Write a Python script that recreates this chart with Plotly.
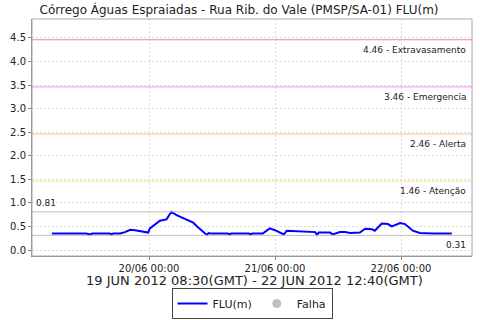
import plotly.graph_objects as go

# Series FLU(m) (local time, GMT-3)
times = [
    "2012-06-19 05:30", "2012-06-19 09:00", "2012-06-19 12:00", "2012-06-19 12:50", "2012-06-19 13:10",
    "2012-06-19 16:30", "2012-06-19 16:50", "2012-06-19 17:10", "2012-06-19 18:30", "2012-06-19 19:25",
    "2012-06-19 20:25", "2012-06-19 21:20", "2012-06-19 22:15", "2012-06-19 23:50", "2012-06-20 00:10",
    "2012-06-20 01:10", "2012-06-20 02:05", "2012-06-20 03:20", "2012-06-20 03:50", "2012-06-20 04:15",
    "2012-06-20 05:15", "2012-06-20 06:50", "2012-06-20 08:25", "2012-06-20 09:10", "2012-06-20 10:00",
    "2012-06-20 10:40", "2012-06-20 11:00", "2012-06-20 11:20", "2012-06-20 11:40", "2012-06-20 15:00",
    "2012-06-20 15:20", "2012-06-20 15:40", "2012-06-20 19:00", "2012-06-20 19:20", "2012-06-20 19:40",
    "2012-06-20 21:40", "2012-06-20 23:00", "2012-06-21 00:00", "2012-06-21 01:15", "2012-06-21 01:40",
    "2012-06-21 02:15", "2012-06-21 04:45", "2012-06-21 06:40", "2012-06-21 07:40", "2012-06-21 08:00",
    "2012-06-21 08:20", "2012-06-21 10:30", "2012-06-21 11:00", "2012-06-21 12:20", "2012-06-21 13:20",
    "2012-06-21 14:20", "2012-06-21 16:10", "2012-06-21 17:10", "2012-06-21 18:30", "2012-06-21 19:00",
    "2012-06-21 20:20", "2012-06-21 21:30", "2012-06-21 22:15", "2012-06-21 23:50", "2012-06-22 00:45",
    "2012-06-22 02:15", "2012-06-22 03:35", "2012-06-22 06:00", "2012-06-22 09:40",
]
flu = [
    0.35, 0.35, 0.35, 0.33, 0.35,
    0.35, 0.33, 0.35, 0.35, 0.38,
    0.43, 0.42, 0.40, 0.37, 0.46,
    0.55, 0.62, 0.65, 0.75, 0.81,
    0.74, 0.66, 0.58, 0.50, 0.41,
    0.36, 0.32, 0.36, 0.35, 0.35,
    0.33, 0.35, 0.35, 0.33, 0.35,
    0.35, 0.46, 0.42, 0.36, 0.33,
    0.41, 0.40, 0.39, 0.38, 0.32,
    0.37, 0.37, 0.33, 0.38, 0.38,
    0.36, 0.37, 0.45, 0.44, 0.41,
    0.56, 0.55, 0.50, 0.57, 0.55,
    0.41, 0.36, 0.35, 0.35,
]

# Threshold lines
limit_values = [4.46, 3.46, 2.46, 1.46]
limit_names = ["Extravasamento", "Emergencia", "Alerta", "Atenção"]
limit_colors = ["#f08a8a", "#ff88ff", "#ffc080", "#f5e68c"]
max_value = 0.81
min_value = 0.31

y_ticks = [0.0, 0.5, 1.0, 1.5, 2.0, 2.5, 3.0, 3.5, 4.0, 4.5]
x_ticks = ["2012-06-20 00:00", "2012-06-21 00:00", "2012-06-22 00:00"]
x_ticklabels = ["20/06 00:00", "21/06 00:00", "22/06 00:00"]

title = "Córrego Águas Espraiadas - Rua Rib. do Vale (PMSP/SA-01) FLU(m)"
period = "19 JUN 2012 08:30(GMT) - 22 JUN 2012 12:40(GMT)"

font = "DejaVu Sans"

fig = go.Figure()
fig.add_trace(go.Scatter(x=times, y=flu, mode="lines", name="FLU(m)",
                         line=dict(color="#0000ff", width=2)))
fig.add_trace(go.Scatter(x=[None], y=[None], mode="markers", name="Falha",
                         marker=dict(color="#c0c0c0", size=9)))

shapes = []
annotations = []
for v, n, c in zip(limit_values, limit_names, limit_colors):
    shapes.append(dict(type="line", xref="paper", x0=0, x1=1, yref="y", y0=v, y1=v,
                       line=dict(color=c, width=1)))
    annotations.append(dict(xref="paper", x=0.99, yref="y", y=v, yshift=-3,
                            text=f"{v:.2f} - {n}", showarrow=False,
                            xanchor="right", yanchor="top",
                            font=dict(family=font, size=9, color="#222")))
for v in (max_value, min_value):
    shapes.append(dict(type="line", xref="paper", x0=0, x1=1, yref="y", y0=v, y1=v,
                       line=dict(color="#c0c0c0", width=1)))
annotations.append(dict(xref="paper", x=0.005, yref="y", y=max_value, yshift=2,
                        text=f"{max_value:.2f}", showarrow=False,
                        xanchor="left", yanchor="bottom",
                        font=dict(family=font, size=9, color="#222")))
annotations.append(dict(xref="paper", x=0.99, yref="y", y=min_value, yshift=-3,
                        text=f"{min_value:.2f}", showarrow=False,
                        xanchor="right", yanchor="top",
                        font=dict(family=font, size=9, color="#222")))
annotations.append(dict(xref="paper", x=0.505, yref="paper", y=-0.105,
                        text=period, showarrow=False, xanchor="center", yanchor="middle",
                        font=dict(family=font, size=13, color="#222")))

grid = dict(showgrid=True, gridcolor="#dcdcdc", griddash="2px,2px", gridwidth=1)

fig.update_layout(
    width=480, height=320,
    margin=dict(l=32, r=8, t=19, b=64, autoexpand=False),
    paper_bgcolor="white", plot_bgcolor="white",
    title=dict(text=title, x=0.498, xanchor="center", y=0.97, yanchor="middle",
               font=dict(family=font, size=12, color="#222")),
    font=dict(family=font, size=10, color="#222"),
    shapes=shapes, annotations=annotations,
    showlegend=True,
    legend=dict(orientation="h", x=0.5, xanchor="center", y=-0.135, yanchor="top",
                bordercolor="#444", borderwidth=1, bgcolor="white",
                font=dict(family=font, size=11, color="#222"),
                itemwidth=30, tracegroupgap=0),
    xaxis=dict(range=["2012-06-19 01:43", "2012-06-22 13:31"],
               tickvals=x_ticks, ticktext=x_ticklabels, **grid,
               showline=True, linecolor="#888", mirror=False,
               ticks="outside", ticklen=3, tickcolor="#888",
               tickfont=dict(family=font, size=10), zeroline=False),
    yaxis=dict(range=[-0.127, 4.9], tickvals=y_ticks,
               ticktext=[f"{t:.1f}" for t in y_ticks], **grid,
               showline=True, linecolor="#888",
               ticks="outside", ticklen=3, tickcolor="#888",
               tickfont=dict(family=font, size=10), zeroline=False),
)
# plot border (right/top light)
fig.add_shape(type="rect", xref="paper", yref="paper", x0=0, x1=1, y0=0, y1=1,
              line=dict(color="#aaaaaa", width=1), layer="above")

fig.write_html("out.html", config={"displayModeBar": False},
               post_script="document.body.style.margin='0px';")
